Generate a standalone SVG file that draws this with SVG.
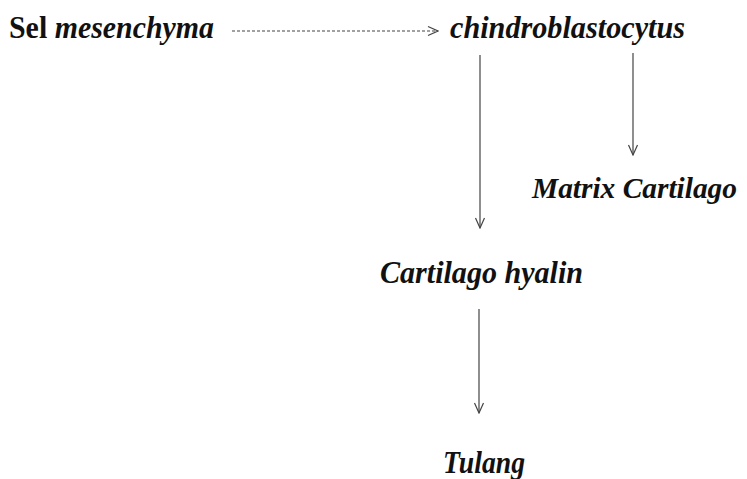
<svg xmlns="http://www.w3.org/2000/svg" width="747" height="479" viewBox="0 0 747 479">
<style>
text{font-family:"Liberation Serif","Times New Roman",serif;font-size:32px;font-weight:bold;font-style:italic;fill:#111}
.up{font-style:normal}
.sm{font-size:29px}
.c{stroke:#444;stroke-width:1.2;fill:none}
.d{stroke-dasharray:3 2}
</style>
<defs>
<marker id="ah" viewBox="0 0 12 12" refX="11" refY="6" markerWidth="12" markerHeight="12" markerUnits="userSpaceOnUse" orient="auto">
<path d="M1 1.5 L11 6 L1 10.5" fill="none" stroke="#444" stroke-width="1.2"/>
</marker>
</defs>
<rect width="747" height="479" fill="#fff"/>
<g id="connectors">
<line class="c d" x1="232" y1="31" x2="438" y2="31" marker-end="url(#ah)"/>
<line class="c" x1="480" y1="55" x2="480" y2="228" marker-end="url(#ah)"/>
<line class="c" x1="633" y1="53" x2="633" y2="155" marker-end="url(#ah)"/>
<line class="c" x1="479" y1="309" x2="479" y2="413" marker-end="url(#ah)"/>
</g>
<g id="n-mesenchyma"><text x="9" y="38" textLength="205" lengthAdjust="spacingAndGlyphs"><tspan class="up">Sel</tspan> mesenchyma</text></g>
<g id="n-chindro"><text x="450" y="38" textLength="235" lengthAdjust="spacingAndGlyphs">chindroblastocytus</text></g>
<g id="n-matrix"><text class="sm" x="532" y="198" textLength="205" lengthAdjust="spacingAndGlyphs">Matrix Cartilago</text></g>
<g id="n-hyalin"><text x="380" y="283" textLength="203" lengthAdjust="spacingAndGlyphs">Cartilago hyalin</text></g>
<g id="n-tulang"><text x="443" y="473" textLength="82" lengthAdjust="spacingAndGlyphs">Tulang</text></g>
</svg>
